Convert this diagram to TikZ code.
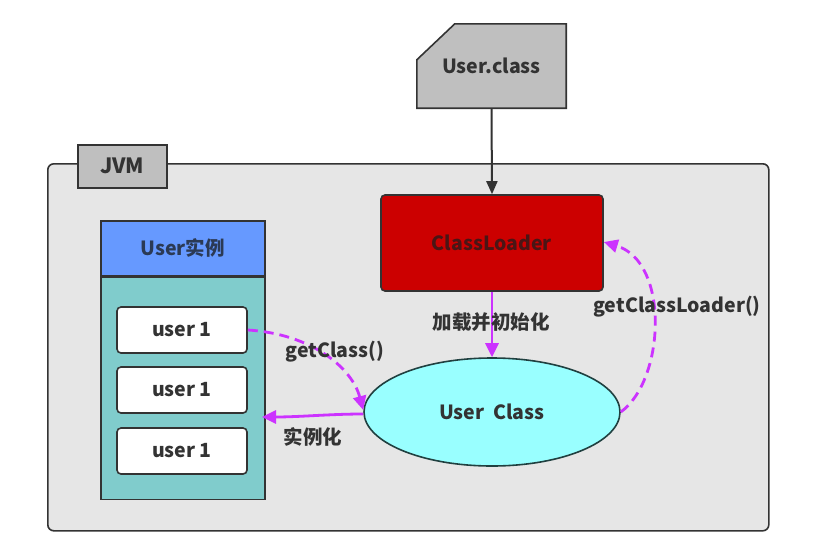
\documentclass[tikz,border=0pt]{standalone}
\usepackage{fontspec}
\setmainfont{Noto Sans CJK SC}
\usetikzlibrary{arrows.meta,shapes.geometric,calc}
\definecolor{dark}{HTML}{333333}
\definecolor{jvmfill}{HTML}{E6E6E6}
\definecolor{tabfill}{HTML}{BFBFBF}
\definecolor{clred}{HTML}{CC0000}
\definecolor{cltext}{HTML}{4A1515}
\definecolor{hdrblue}{HTML}{6699FF}
\definecolor{hdrtext}{HTML}{2B3A55}
\definecolor{bodyteal}{HTML}{80CCCC}
\definecolor{ellfill}{HTML}{99FFFF}
\definecolor{elldraw}{HTML}{204040}
\definecolor{purp}{HTML}{CC33FF}
\tikzset{
  txt/.style={font=\fontsize{19.5}{22}\selectfont\bfseries, text=dark},
  box/.style={draw=dark, line width=1.6pt, inner sep=0pt},
  ubox/.style={box, fill=white, rounded corners=4pt, minimum width=130, minimum height=46, txt},
  parrow/.style={draw=purp, line width=2.8pt, -{Triangle[length=14pt,width=13pt]}},
  pdash/.style={parrow, dash pattern=on 10pt off 6pt},
  blackarrow/.style={draw=dark, line width=2pt, -{Triangle[length=13pt,width=11pt]}},
}
\begin{document}
\begin{tikzpicture}[x=1pt,y=-1pt]
\useasboundingbox (0,0) rectangle (822,544);
% JVM container
\node[box, fill=jvmfill, rounded corners=6pt, minimum width=721, minimum height=367, anchor=north west] (jvm) at (47,163) {};
\node[box, fill=tabfill, minimum width=89, minimum height=43, anchor=north west, txt, font=\fontsize{21}{23}\selectfont\bfseries] (tab) at (77,144) {JVM};
% User.class
\node[minimum width=149, minimum height=84, inner sep=0pt] (uc) at (491.5,66) {};
\draw[box, fill=tabfill] ($(uc.north west)+(0,36)$) -- ($(uc.north west)+(38,0)$) -- (uc.north east) -- (uc.south east) -- (uc.south west) -- cycle;
\node[txt] (uctext) at (uc.center) {User.class};
% ClassLoader
\node[box, fill=clred, rounded corners=4pt, minimum width=222, minimum height=96, txt, text=cltext] (cl) at (492,243) {ClassLoader};
\draw[blackarrow] (uc.south) -- (cl.north);
% User Class ellipse
\node[ellipse, draw=elldraw, line width=1.6pt, fill=ellfill, minimum width=256, minimum height=108, inner sep=0pt, txt] (ucl) at (492,412) {User\ \ Class};
% User instances
\node[box, fill=hdrblue, minimum width=164, minimum height=55, anchor=north west, txt, text=hdrtext] (hdr) at (100,220) {User实例};
\node[box, fill=bodyteal, minimum width=164, minimum height=222, anchor=north] (body) at (hdr.south) {};
\node[ubox] (u1) at (182,330) {user 1};
\node[ubox] (u2) at (182,390) {user 1};
\node[ubox] (u3) at (182,451) {user 1};
\coordinate (inst) at (262,417);
% connectors
\draw[parrow] (cl.south) -- (ucl.north);
\node[txt] (l1) at (491,322) {加载并初始化};
\draw[pdash] (u1.east) .. controls (312,334) and (352,368) .. ($(ucl.west)+(0,-2)$);
\node[txt] (l2) at (335,352) {getClass()};
\draw[parrow] ($(ucl.west)+(0,2)$) .. controls (330,414) and (300,417) .. (inst);
\node[txt] (l3) at (313,437) {实例化};
\draw[pdash] (ucl.east) .. controls (665,380) and (670,262) .. ($(cl.east)+(0,-1)$);
\node[txt] (l4) at (677,307) {getClassLoader()};
\end{tikzpicture}
\end{document}
